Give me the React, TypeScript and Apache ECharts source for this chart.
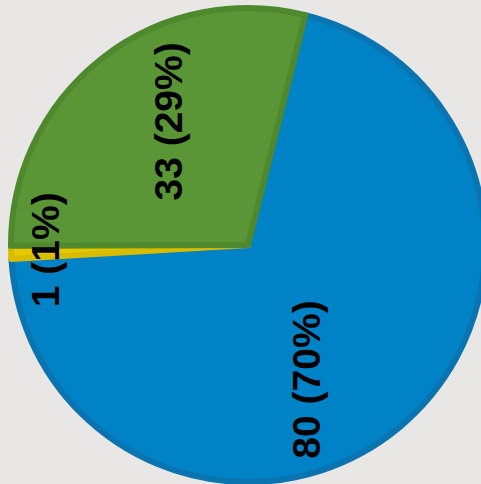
import React, { useEffect, useRef } from "react";
import * as echarts from "echarts";

const categories = ["A", "B", "C"];
const values = [80, 1, 33];
const percents = [70, 1, 29];
const fillColors = ["#0083c6", "#e5c800", "#5a9536"];
const borderColors = ["#0a74b1", "#d8bc00", "#4f892d"];
// label shifts in the rotated text frame
const labelShifts = [
  [-41, -19],
  [-1, -81],
  [28, -5],
];

export default function App() {
  const ref = useRef<HTMLDivElement>(null);
  useEffect(() => {
    if (!ref.current) return;
    const chart = echarts.init(ref.current, null, { renderer: "svg" });
    chart.setOption({
      animation: false,
      backgroundColor: "#e8e7e5",
      series: [
        {
          type: "pie",
          center: [248, 245],
          radius: 237,
          startAngle: 76,
          clockwise: true,
          avoidLabelOverlap: false,
          label: {
            show: true,
            position: "inside",
            rotate: 90,
            fontSize: 39,
            fontWeight: "bold",
            fontFamily: "Liberation Sans, Arial, sans-serif",
            color: "#000",
            formatter: (p: any) => `${values[p.dataIndex]} (${percents[p.dataIndex]}%)`,
          },
          labelLine: { show: false },
          labelLayout: (p: any) => ({
            dx: labelShifts[p.dataIndex][0],
            dy: labelShifts[p.dataIndex][1],
          }),
          emphasis: { disabled: true },
          data: categories.map((c, i) => ({
            name: c,
            value: values[i],
            itemStyle: {
              color: fillColors[i],
              borderColor: borderColors[i],
              borderWidth: 6,
            },
          })),
        },
      ],
    });
    return () => chart.dispose();
  }, []);
  return (
    <div
      ref={ref}
      style={{ position: "fixed", left: 0, top: 0, width: 481, height: 484 }}
    />
  );
}
